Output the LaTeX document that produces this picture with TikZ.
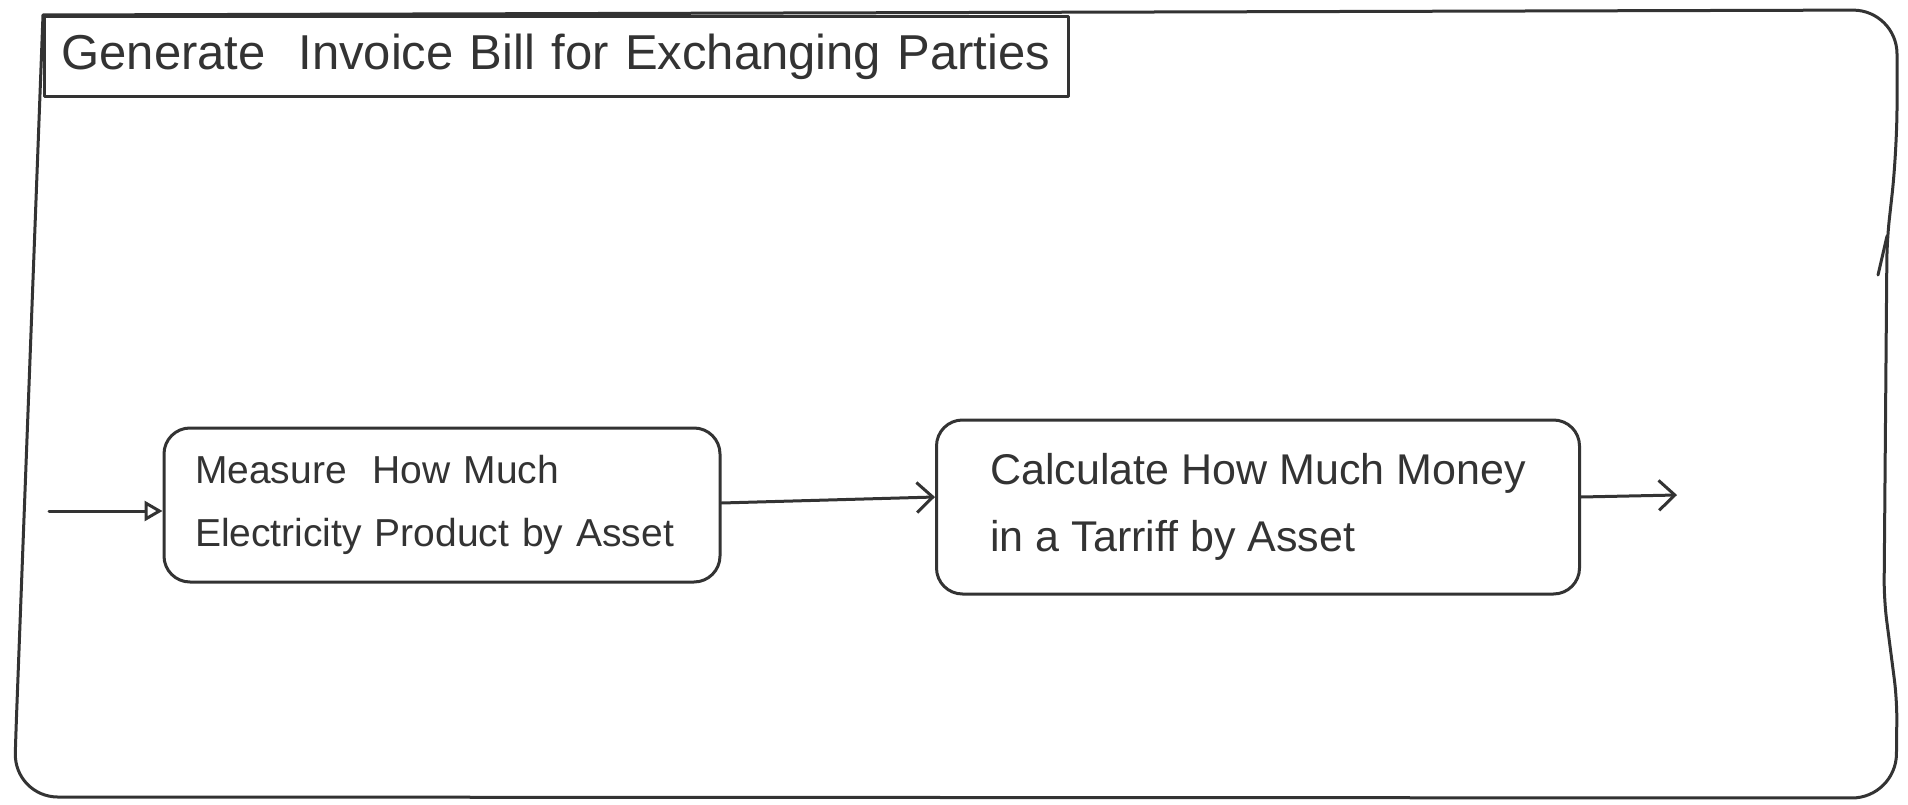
\documentclass[tikz,border=0pt]{standalone}
\usepackage{fontspec}
\setmainfont{Liberation Sans}
\usetikzlibrary{arrows.meta}
\definecolor{ink}{HTML}{333333}
\tikzset{
  pen/.style={draw=ink, line width=3pt, line cap=round, line join=round},
  titlebox/.style={pen, anchor=north west, minimum height=80pt, inner xsep=17pt, inner ysep=0pt,
    text width=990pt, align=left, text=ink, font=\fontsize{49}{56}\selectfont},
  actbox/.style={pen, rounded corners=26pt, inner ysep=0pt, align=left, text=ink},
  flow/.style={pen, -{Straight Barb[length=16pt, width=30pt, line width=3pt]}},
  startflow/.style={pen, -{Triangle[open, length=18pt, width=20pt, line width=3pt]}}
}
\begin{document}
\begin{tikzpicture}[x=1pt,y=-1pt]
\useasboundingbox (0,0) rectangle (1908,805);
% outer frame
\draw[pen, rounded corners=44pt] (43,15) -- (1897,10) -- (1897,150)
  [rounded corners=20pt] -- (1887,240) -- (1884,600) -- (1897,700)
  [rounded corners=44pt] -- (1896,798) -- (14,797)
  [rounded corners=20pt] -- (16,730) [sharp corners] -- (43,15) -- cycle;
\draw[pen] (1878,275) -- (1887,236);
% title
\node[titlebox] (title) at (43,15) {Generate\ \ Invoice Bill for Exchanging Parties};
% activities
\node[actbox, minimum width=556pt, minimum height=154pt, inner xsep=31pt, text width=494pt,
  font=\fontsize{39}{63}\selectfont] (measure) at (442,505)
  {Measure\ \ How Much\\Electricity Product by Asset};
\node[actbox, minimum width=643pt, minimum height=174pt, inner xsep=0pt,
  font=\fontsize{43}{67}\selectfont] (calc) at (1258,507)
  {Calculate How Much Money\\in a Tarriff by Asset};
% connectors
\coordinate (start) at (49,511);
\coordinate (finish) at (1677,495);
\draw[startflow] (start) -- (measure.west |- start);
\draw[flow] (measure.east |- 0,503) -- (calc.west |- 0,497);
\draw[flow] (calc.east |- 0,497) -- (finish);
\end{tikzpicture}
\end{document}
